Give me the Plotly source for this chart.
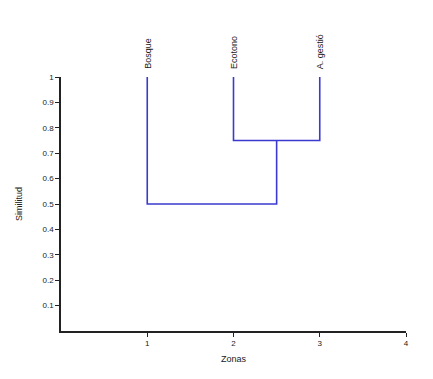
import plotly.graph_objects as go

# Data
labels = ["Bosque", "Ecotono", "A. gestió"]
leaf_x = [1, 2, 3]
leaf_top = 1.0
# similarity at which clusters merge: (Ecotono + A. gestió), then (Bosque + rest)
merge_similarity = [0.75, 0.5]
y_ticks = [0.1, 0.2, 0.3, 0.4, 0.5, 0.6, 0.7, 0.8, 0.9, 1]
x_ticks = [1, 2, 3, 4]

LINE = "#3a3ad0"
FONT = "Liberation Sans, Arial, sans-serif"

m1 = merge_similarity[0]
c1 = (leaf_x[1] + leaf_x[2]) / 2
m2 = merge_similarity[1]

xs = [leaf_x[1], leaf_x[1], leaf_x[2], leaf_x[2], None,
      leaf_x[0], leaf_x[0], c1, c1]
ys = [leaf_top, m1, m1, leaf_top, None,
      leaf_top, m2, m2, m1]

fig = go.Figure()
fig.add_trace(go.Scatter(x=xs, y=ys, mode="lines",
                         line=dict(color=LINE, width=1.6),
                         hoverinfo="skip", showlegend=False))

for lx, lab in zip(leaf_x, labels):
    fig.add_annotation(x=lx, y=leaf_top, text=lab, textangle=-90,
                       showarrow=False, xanchor="center", yanchor="bottom",
                       yshift=6, font=dict(family=FONT, size=9, color="#222"))

fig.update_layout(
    width=433, height=379,
    margin=dict(l=53, r=35, t=69, b=56),
    plot_bgcolor="white", paper_bgcolor="white",
    font=dict(family=FONT, size=8, color="#222"),
    showlegend=False,
)
fig.update_xaxes(range=[0, 4], tickvals=x_ticks, ticktext=[str(v) for v in x_ticks],
                 showgrid=False, zeroline=False, showline=True, linecolor="#222",
                 linewidth=1.5, ticks="outside", ticklen=4, tickcolor="#222",
                 tickwidth=1.2, tickfont=dict(size=8), automargin=False,
                 title=dict(text="Zonas", font=dict(size=9), standoff=8))
fig.update_yaxes(range=[0, 1], tickvals=y_ticks, ticktext=[f"{v:g}" for v in y_ticks],
                 showgrid=False, zeroline=False, showline=True, linecolor="#222",
                 linewidth=1.5, ticks="outside", ticklen=4, tickcolor="#222",
                 tickwidth=1.2, tickfont=dict(size=8), automargin=False,
                 title=dict(text="Similitud", font=dict(size=9), standoff=18))

fig.write_html("out.html")
